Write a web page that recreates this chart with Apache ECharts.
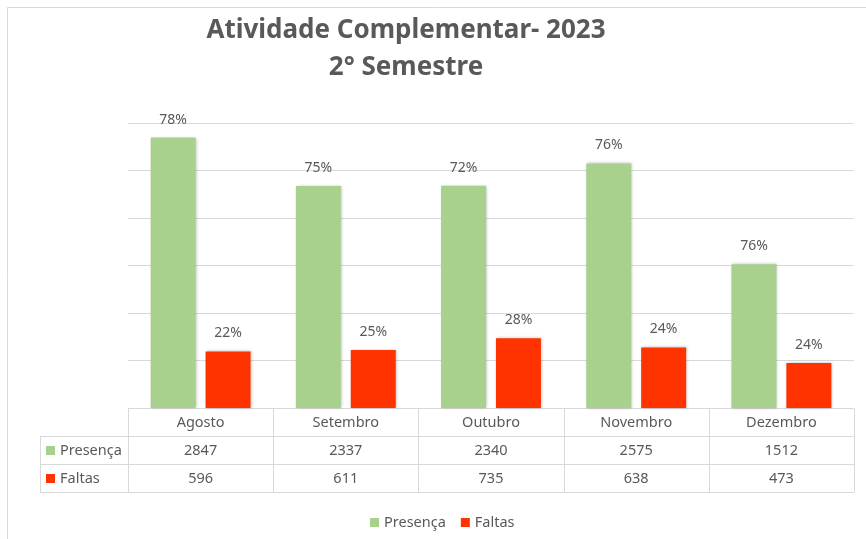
<!DOCTYPE html>
<html lang="pt">
<head>
    <meta charset="UTF-8">
    <title>Atividade Complementar 2023</title>
    <script src="https://cdn.jsdelivr.net/npm/echarts@6/dist/echarts.min.js"></script>
    <style>
        html, body { margin: 0; padding: 0; background: #fff; }
        #charts { width: 866px; height: 539px; }
    </style>
</head>
<body>
    <div id="charts"></div>
    <script type="text/javascript">
        var meses = ['Agosto', 'Setembro', 'Outubro', 'Novembro', 'Dezembro'];
        var presenca = [2847, 2337, 2340, 2575, 1512];
        var faltas = [596, 611, 735, 638, 473];
        var presencaPct = ['78%', '75%', '72%', '76%', '76%'];
        var faltasPct = ['22%', '25%', '28%', '24%', '24%'];
        var series = ['Presença', 'Faltas'];
        var cores = ['#a9d18e', '#ff3300'];

        var fonte = '"Noto Sans", sans-serif';
        var cinza = '#595959';
        var linha = '#d9d9d9';

        var myChart = echarts.init(document.getElementById('charts'));

        function barra(nome, dados, rotulos, cor) {
            return {
                name: nome,
                type: 'bar',
                data: dados,
                barWidth: 45,
                barGap: '22%',
                itemStyle: {
                    color: cor,
                    shadowColor: 'rgba(0,0,0,0.25)',
                    shadowBlur: 3,
                    shadowOffsetX: 1
                },
                label: {
                    show: true,
                    position: 'top',
                    distance: 11,
                    color: cinza,
                    fontFamily: fonte,
                    fontSize: 14,
                    formatter: function (p) { return rotulos[p.dataIndex]; }
                }
            };
        }

        var option = {
            animation: false,
            backgroundColor: '#fff',
            grid: { left: 128, right: 12, top: 123, bottom: 131 },
            legend: {
                data: series,
                left: 365,
                top: 510,
                itemWidth: 9,
                itemHeight: 9,
                itemGap: 15,
                icon: 'rect',
                textStyle: { color: cinza, fontFamily: fonte, fontSize: 14.5 }
            },
            xAxis: {
                type: 'category',
                data: meses,
                axisLine: { show: false },
                axisTick: { show: false },
                axisLabel: { show: false }
            },
            yAxis: {
                type: 'value',
                min: 0,
                max: 3000,
                interval: 500,
                axisLine: { show: false },
                axisTick: { show: false },
                axisLabel: { show: false },
                splitLine: { lineStyle: { color: linha, width: 1 } }
            },
            series: [
                barra(series[0], presenca, presencaPct, cores[0]),
                barra(series[1], faltas, faltasPct, cores[1])
            ]
        };
        myChart.setOption(option);

        // tabela de dados abaixo do grafico
        function montarTabela() {
            var g = [];
            var x0 = 128, x1 = 854, xl = 40;
            var rows = [408.5, 436.5, 464.5, 492.5];
            var passo = (x1 - x0) / meses.length;
            var estiloLinha = { stroke: linha, lineWidth: 1 };

            g.push({ type: 'rect', shape: { x: 7.5, y: 7.5, width: 880, height: 560 },
                style: { fill: null, stroke: linha, lineWidth: 1 }, z: 0 });
            g.push({ type: 'text', x: 406, y: 31,
                style: { text: 'Atividade Complementar- 2023', fill: cinza, font: 'bold 26px ' + fonte,
                    align: 'center', verticalAlign: 'middle' } });
            g.push({ type: 'text', x: 406, y: 68,
                style: { text: '2° Semestre', fill: cinza, font: 'bold 26px ' + fonte,
                    align: 'center', verticalAlign: 'middle' } });

            g.push({ type: 'line', shape: { x1: x0, y1: rows[0], x2: x1, y2: rows[0] }, style: estiloLinha });
            for (var r = 1; r < rows.length; r++) {
                g.push({ type: 'line', shape: { x1: xl, y1: rows[r], x2: x1, y2: rows[r] }, style: estiloLinha });
            }
            g.push({ type: 'line', shape: { x1: xl + 0.5, y1: rows[1], x2: xl + 0.5, y2: rows[3] }, style: estiloLinha });
            for (var i = 0; i <= meses.length; i++) {
                var xv = Math.round(x0 + i * passo) + 0.5;
                g.push({ type: 'line', shape: { x1: xv, y1: rows[0], x2: xv, y2: rows[3] }, style: estiloLinha });
            }

            var linhas = [meses, presenca, faltas];
            for (var r2 = 0; r2 < 3; r2++) {
                var yc = (rows[r2] + rows[r2 + 1]) / 2;
                for (var c = 0; c < meses.length; c++) {
                    var xc = myChart.convertToPixel({ xAxisIndex: 0 }, meses[c]);
                    g.push({ type: 'text', x: xc, y: yc,
                        style: { text: String(linhas[r2][c]), fill: cinza, font: '14.5px ' + fonte,
                            align: 'center', verticalAlign: 'middle' } });
                }
            }
            for (var s = 0; s < series.length; s++) {
                var ys = (rows[s + 1] + rows[s + 2]) / 2;
                g.push({ type: 'rect', shape: { x: 46, y: ys - 4.5, width: 9, height: 9 }, style: { fill: cores[s] } });
                g.push({ type: 'text', x: 60, y: ys,
                    style: { text: series[s], fill: cinza, font: '14.5px ' + fonte, align: 'left', verticalAlign: 'middle' } });
            }
            myChart.setOption({ graphic: g });
        }
        montarTabela();
    </script>
</body>
</html>
